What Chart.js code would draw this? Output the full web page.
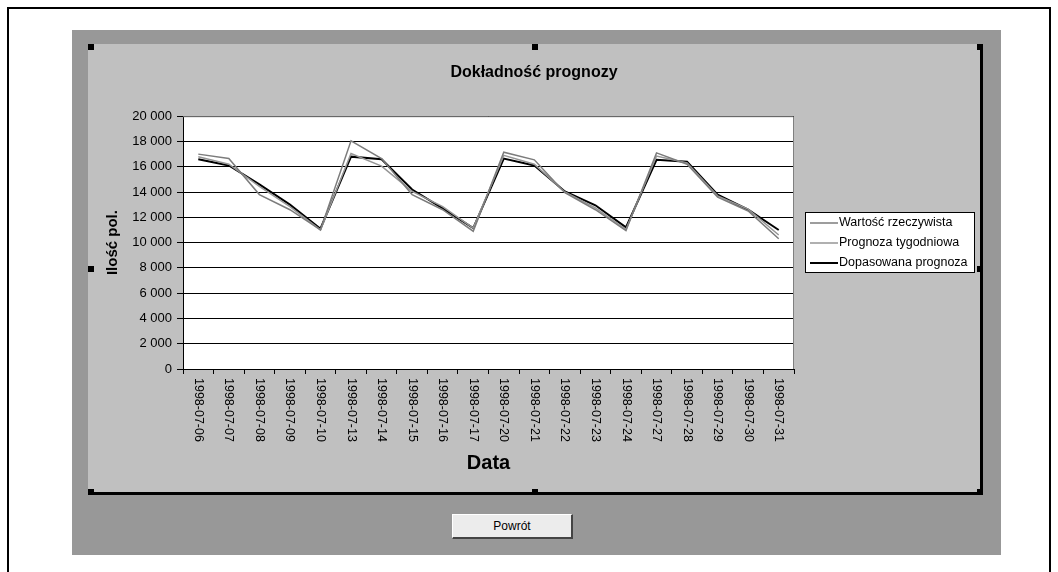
<!DOCTYPE html>
<html>
<head>
<meta charset="utf-8">
<script src="https://cdn.jsdelivr.net/npm/chart.js@4.4.1/dist/chart.umd.min.js"></script>
<style>
  body { margin: 0; background: #fff; width: 1058px; height: 572px; overflow: hidden; position: relative; font-family: "Liberation Sans", Arial, sans-serif; }
  #frame { position: absolute; left: 7px; top: 7px; width: 1044px; height: 600px; border: 2px solid #000; box-sizing: border-box; }
  #window { position: absolute; left: 72px; top: 30px; width: 929px; height: 525px; background: #989898; }
  #panel { position: absolute; left: 88px; top: 44px; width: 892px; height: 448px; background: #c0c0c0; border-right: 3px solid #000; border-bottom: 3px solid #000; }
  #panel canvas { position: absolute; left: 0; top: 0; }
  .handle { position: absolute; width: 6px; height: 6px; background: #000; }
  #btn { position: absolute; left: 452px; top: 514px; width: 118px; height: 22px; background: #ececec; border-top: 1px solid #fff; border-left: 1px solid #fff; border-right: 2px solid #444; border-bottom: 2px solid #444; font-size: 12px; text-align: center; line-height: 22px; color: #000; }
</style>
</head>
<body>
<div id="frame"></div>
<div id="window"></div>
<div id="panel"><canvas id="chart" width="892" height="448"></canvas></div>
<div class="handle" style="left:88px;top:44px"></div>
<div class="handle" style="left:532px;top:44px"></div>
<div class="handle" style="left:977px;top:44px"></div>
<div class="handle" style="left:88px;top:266px"></div>
<div class="handle" style="left:977px;top:266px"></div>
<div class="handle" style="left:88px;top:489px"></div>
<div class="handle" style="left:532px;top:489px"></div>
<div class="handle" style="left:977px;top:489px"></div>
<div id="btn">Powrót</div>

<script>
// dates on the x axis
const dates = [
  "1998-07-06", "1998-07-07", "1998-07-08", "1998-07-09", "1998-07-10",
  "1998-07-13", "1998-07-14", "1998-07-15", "1998-07-16", "1998-07-17",
  "1998-07-20", "1998-07-21", "1998-07-22", "1998-07-23", "1998-07-24",
  "1998-07-27", "1998-07-28", "1998-07-29", "1998-07-30", "1998-07-31"
];

// values
const wartoscRzeczywista = [
  17000, 16650, 13800, 12600, 11000, 18050, 16650, 13800, 12600, 10900,
  17150, 16550, 13950, 12600, 10950, 17100, 16200, 13600, 12500, 10300
];
const prognozaTygodniowa = [
  16800, 16200, 14450, 12850, 11000, 17050, 16050, 14050, 12850, 11150,
  16900, 16200, 14000, 12750, 11050, 16850, 16300, 13700, 12650, 10600
];
const dopasowanaPrognoza = [
  16600, 16100, 14600, 13000, 11100, 16800, 16600, 14200, 12700, 11150,
  16650, 16100, 14050, 12950, 11200, 16550, 16400, 13800, 12600, 11000
];

const seriesNames = ["Wartość rzeczywista", "Prognoza tygodniowa", "Dopasowana prognoza"];
const yTicks = [0, 2000, 4000, 6000, 8000, 10000, 12000, 14000, 16000, 18000, 20000];

const font = "'Liberation Sans', Arial, sans-serif";

function spaced(v) {
  return String(v).replace(/\B(?=(\d{3})+(?!\d))/g, " ");
}

// white plot area + gray frame on top/right
const plotBg = {
  id: "plotBg",
  beforeDraw(chart) {
    const a = chart.chartArea, ctx = chart.ctx;
    ctx.save();
    ctx.fillStyle = "#fff";
    ctx.fillRect(a.left, a.top, a.right - a.left, a.bottom - a.top);
    ctx.restore();
  },
  afterDatasetsDraw(chart) {
    const a = chart.chartArea, ctx = chart.ctx;
    ctx.save();
    ctx.strokeStyle = "#808080";
    ctx.lineWidth = 1;
    ctx.beginPath();
    ctx.moveTo(a.left, a.top + 0.5);
    ctx.lineTo(a.right - 0.5, a.top + 0.5);
    ctx.lineTo(a.right - 0.5, a.bottom);
    ctx.stroke();
    ctx.restore();
  }
};

// date labels turned clockwise, like in Excel
const xLabels = {
  id: "xLabels",
  afterDraw(chart) {
    const x = chart.scales.x, ctx = chart.ctx;
    ctx.save();
    ctx.font = "12.5px " + font;
    ctx.fillStyle = "#000";
    ctx.textAlign = "left";
    ctx.textBaseline = "middle";
    dates.forEach((d, i) => {
      ctx.save();
      ctx.translate(x.getPixelForValue(i), chart.chartArea.bottom + 9);
      ctx.rotate(Math.PI / 2);
      ctx.fillText(d, 0, 0);
      ctx.restore();
    });
    ctx.restore();
  }
};

// boxed legend on the right
const boxLegend = {
  id: "boxLegend",
  afterDraw(chart) {
    const ctx = chart.ctx;
    const left = chart.chartArea.right + 11, top = 168, w = 170, h = 61;
    ctx.save();
    ctx.fillStyle = "#fff";
    ctx.fillRect(left, top, w, h);
    ctx.strokeStyle = "#000";
    ctx.lineWidth = 1;
    ctx.strokeRect(left + 0.5, top + 0.5, w - 1, h - 1);
    ctx.font = "12.5px " + font;
    ctx.textBaseline = "middle";
    ctx.textAlign = "left";
    chart.data.datasets.forEach((ds, i) => {
      const y = top + 11 + i * 20;
      ctx.strokeStyle = ds.borderColor;
      ctx.lineWidth = ds.borderWidth;
      ctx.beginPath();
      ctx.moveTo(left + 5, y);
      ctx.lineTo(left + 33, y);
      ctx.stroke();
      ctx.fillStyle = "#000";
      ctx.fillText(ds.label, left + 34, y);
    });
    ctx.restore();
  }
};

new Chart(document.getElementById("chart"), {
  type: "line",
  data: {
    labels: dates,
    datasets: [
      { label: seriesNames[0], data: wartoscRzeczywista, borderColor: "#7c7c7c", borderWidth: 1.5 },
      { label: seriesNames[1], data: prognozaTygodniowa, borderColor: "#969696", borderWidth: 1.5 },
      { label: seriesNames[2], data: dopasowanaPrognoza, borderColor: "#000", borderWidth: 2 }
    ]
  },
  options: {
    responsive: false,
    animation: false,
    devicePixelRatio: 1,
    elements: { point: { radius: 0 }, line: { tension: 0 } },
    layout: { padding: 0 },
    plugins: {
      legend: { display: false },
      tooltip: { enabled: false },
      title: {
        display: true,
        text: "Dokładność prognozy",
        color: "#000",
        font: { family: font, size: 16, weight: "bold" },
        padding: { top: 19, bottom: 34 }
      }
    },
    scales: {
      x: {
        type: "category",
        offset: true,
        afterFit(scale) { scale.height = 123; },
        grid: { offset: true, drawOnChartArea: false, drawTicks: true, tickLength: 5, color: "#000" },
        border: { color: "#000", width: 1 },
        ticks: { display: false },
        title: {
          display: true,
          text: "Data",
          color: "#000",
          font: { family: font, size: 20, weight: "bold" },
          padding: { top: 0, bottom: 17 }
        }
      },
      y: {
        min: 0,
        max: 20000,
        afterFit(scale) { scale.width = 95; },
        afterBuildTicks(scale) { scale.ticks = yTicks.map(v => ({ value: v })); },
        grid: { color: "#000", lineWidth: 1, tickLength: 6 },
        border: { color: "#000", width: 1 },
        ticks: {
          color: "#000",
          padding: 5,
          font: { family: font, size: 13 },
          callback: v => spaced(v)
        },
        title: {
          display: true,
          text: "Ilość pol.",
          color: "#000",
          font: { family: font, size: 15, weight: "bold" },
          padding: { top: 16, bottom: 0 }
        }
      },
      // empty axis on the right that keeps room for the legend
      yRight: {
        position: "right",
        afterFit(scale) { scale.width = 186; },
        grid: { drawOnChartArea: false, drawTicks: false },
        border: { display: false },
        ticks: { display: false }
      }
    }
  },
  plugins: [plotBg, xLabels, boxLegend]
});
</script>
</body>
</html>
